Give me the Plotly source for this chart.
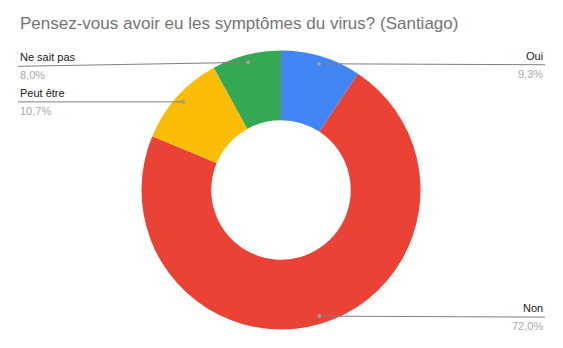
import math
import plotly.graph_objects as go

# ---- data ----
labels = ["Oui", "Non", "Peut être", "Ne sait pas"]
values = [9.3, 72.0, 10.7, 8.0]
pct_text = ["9,3%", "72,0%", "10,7%", "8,0%"]
colors = ["#4285F4", "#EA4335", "#FBBC04", "#34A853"]
title = "Pensez-vous avoir eu les symptômes du virus? (Santiago)"

# ---- layout geometry (pixels) ----
W, H = 563, 348
cx, cy, R = 281.0, 190.0, 139.5
hole = 0.5
dot_r_frac = 0.945
left_x, right_x = 18, 545
line_dy = [1, 1, 0, 4]

fig = go.Figure()
fig.add_trace(go.Pie(
    labels=labels, values=values, sort=False, direction="clockwise", rotation=0,
    hole=hole, marker=dict(colors=colors, line=dict(width=0)),
    textinfo="none", hoverinfo="label+percent", showlegend=False,
    domain=dict(x=[(cx - R) / W, (cx + R) / W], y=[(H - cy - R) / H, (H - cy + R) / H]),
))

total = sum(values)
cum = 0.0
shapes, annos = [], []
for i, (lab, v, pt) in enumerate(zip(labels, values, pct_text)):
    mid = (cum + v / 2) / total * 2 * math.pi
    cum += v
    dx = math.sin(mid) * R * dot_r_frac
    dy = -math.cos(mid) * R * dot_r_frac
    px, py = cx + dx, cy + dy
    right = dx >= 0
    ex = right_x if right else left_x
    ey = py + line_dy[i]
    shapes.append(dict(type="line", xref="x", yref="y", x0=px, y0=py, x1=ex, y1=ey,
                       line=dict(color="#7f7f7f", width=1), layer="above"))
    shapes.append(dict(type="circle", xref="x", yref="y", x0=px - 2, x1=px + 2, y0=py - 2, y1=py + 2,
                       fillcolor="#9e9e9e", line=dict(width=0), layer="above"))
    anchor = "right" if right else "left"
    annos.append(dict(x=ex, y=ey - 1, xref="x", yref="y", text=lab, showarrow=False,
                      xanchor=anchor, yanchor="bottom",
                      font=dict(family="Arial, Liberation Sans, sans-serif", size=11, color="#222222")))
    annos.append(dict(x=ex, y=ey + 1, xref="x", yref="y", text=pt, showarrow=False,
                      xanchor=anchor, yanchor="top",
                      font=dict(family="Arial, Liberation Sans, sans-serif", size=11, color="#a8a8a8")))

annos.append(dict(x=18, y=23.5, xref="x", yref="y", text=title, showarrow=False,
                  xanchor="left", yanchor="middle",
                  font=dict(family="Arial, Liberation Sans, sans-serif", size=17, color="#757575")))

fig.update_layout(
    width=W, height=H, margin=dict(l=0, r=0, t=0, b=0),
    paper_bgcolor="white", plot_bgcolor="rgba(0,0,0,0)",
    xaxis=dict(range=[0, W], visible=False, domain=[0, 1], fixedrange=True),
    yaxis=dict(range=[H, 0], visible=False, domain=[0, 1], fixedrange=True),
    shapes=shapes, annotations=annos,
)
fig.write_html("out.html")
